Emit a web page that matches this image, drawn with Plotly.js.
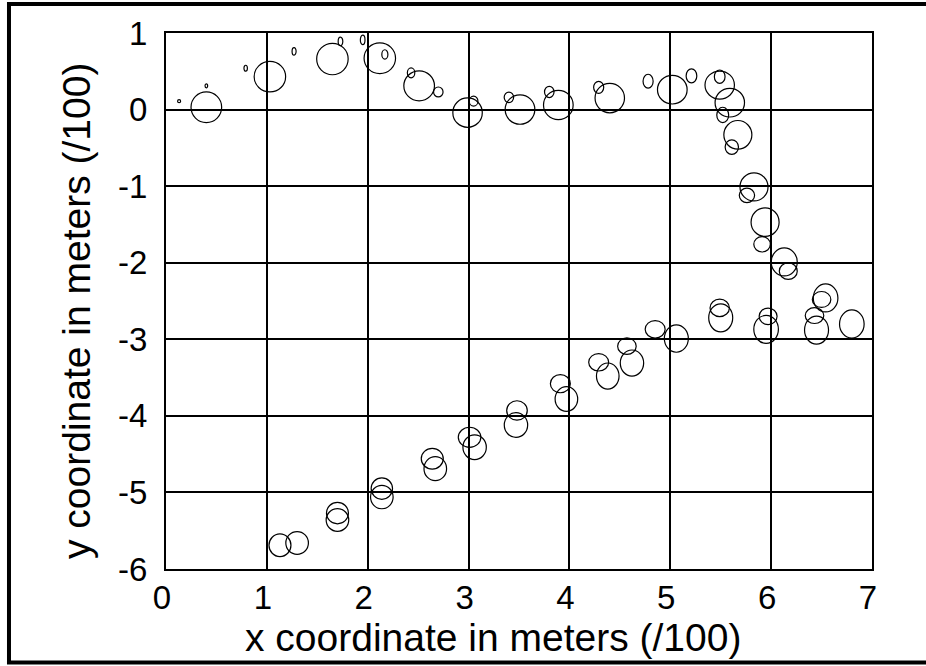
<!DOCTYPE html>
<html>
<head>
<meta charset="utf-8">
<script src="https://cdn.plot.ly/plotly-3.0.1.min.js"></script>
<style>
html,body{margin:0;padding:0;background:#fff;}
#chart{width:926px;height:666px;}
</style>
</head>
<body>
<div id="chart"></div>
<script>
// ellipse centres (x, y in meters /100) and semi-axes (in the same units)
const cx = [0.13,0.40,0.40,0.79,1.03,1.27,1.65,1.73,1.95,2.12,2.17,2.43,2.51,2.70,2.99,3.05,3.40,3.51,3.80,3.89,4.29,4.40,4.78,5.02,5.21,5.49,5.49,5.59,5.52,5.67,5.61,5.83,5.76,5.94,5.91,6.13,6.17,
            4.85,5.06,5.49,5.50,5.97,5.95,6.43,6.45,6.50,6.54,6.80,4.57,4.62,4.29,4.38,3.91,3.97,3.48,3.47,3.01,3.06,2.64,2.67,2.14,2.14,1.70,1.70,1.13,1.30];
const cy = [0.11,0.03,0.31,0.54,0.43,0.76,0.66,0.89,0.91,0.67,0.72,0.48,0.31,0.23,-0.04,0.11,0.16,0.00,0.23,0.06,0.29,0.15,0.37,0.26,0.44,0.32,0.43,0.09,-0.07,-0.33,-0.49,-1.01,-1.12,-1.47,-1.76,-1.99,-2.11,
            -2.87,-2.99,-2.59,-2.72,-2.70,-2.87,-2.69,-2.88,-2.48,-2.46,-2.80,-3.09,-3.31,-3.30,-3.48,-3.58,-3.78,-3.93,-4.12,-4.28,-4.41,-4.56,-4.69,-4.95,-5.06,-5.27,-5.36,-5.69,-5.66];
const rx = [0.015,0.152,0.013,0.017,0.156,0.020,0.156,0.023,0.023,0.156,0.030,0.037,0.152,0.047,0.146,0.043,0.047,0.147,0.047,0.147,0.050,0.146,0.050,0.147,0.053,0.146,0.053,0.146,0.059,0.139,0.066,0.139,0.076,0.139,0.082,0.129,0.089,
            0.099,0.119,0.096,0.119,0.089,0.122,0.092,0.119,0.092,0.122,0.122,0.092,0.116,0.099,0.112,0.099,0.112,0.102,0.116,0.112,0.116,0.109,0.112,0.106,0.112,0.109,0.112,0.109,0.112];
const ry = [0.020,0.200,0.026,0.039,0.200,0.048,0.205,0.056,0.061,0.200,0.061,0.065,0.196,0.065,0.192,0.065,0.069,0.192,0.074,0.192,0.078,0.192,0.091,0.187,0.091,0.183,0.087,0.187,0.100,0.187,0.095,0.183,0.095,0.187,0.100,0.183,0.108,
            0.114,0.179,0.114,0.183,0.108,0.183,0.104,0.183,0.104,0.183,0.183,0.108,0.170,0.114,0.170,0.118,0.161,0.127,0.161,0.131,0.161,0.135,0.157,0.140,0.153,0.140,0.148,0.148,0.148];

const xTicks = [0,1,2,3,4,5,6,7];
const yTicks = [1,0,-1,-2,-3,-4,-5,-6];
const xTitle = 'x coordinate in meters (/100)';
const yTitle = 'y coordinate in meters (/100)';

const FONT = 'Liberation Sans, Arial, Helvetica, sans-serif';

const shapes = cx.map((x, i) => ({
  type: 'circle', xref: 'x', yref: 'y',
  x0: x - rx[i], x1: x + rx[i], y0: cy[i] - ry[i], y1: cy[i] + ry[i],
  line: {color: '#000', width: 1.2}, fillcolor: 'rgba(0,0,0,0)', layer: 'above'
}));
// figure frame
shapes.push({
  type: 'rect', xref: 'paper', yref: 'paper',
  x0: -0.2224, x1: 1.09, y0: -0.1744, y1: 1.054,
  line: {color: '#000', width: 4}, layer: 'above'
});

const data = [{
  type: 'scatter', mode: 'markers', x: cx, y: cy,
  marker: {opacity: 0, size: 1}, hoverinfo: 'skip', showlegend: false
}];

const axisCommon = {
  showgrid: true, gridcolor: '#000', gridwidth: 2,
  showline: true, mirror: true, linecolor: '#000', linewidth: 2,
  zeroline: false, ticks: '', tickfont: {family: FONT, size: 33, color: '#000'},
  fixedrange: true
};

const layout = {
  width: 926, height: 666,
  margin: {l: 166, r: 54, t: 33, b: 97, pad: 0},
  paper_bgcolor: '#fff', plot_bgcolor: '#fff',
  font: {family: FONT, color: '#000'},
  showlegend: false,
  xaxis: Object.assign({}, axisCommon, {
    range: [0, 7], tickmode: 'array', tickvals: xTicks, ticktext: xTicks.map(String),
    ticklabelshift: -4, ticklabelstandoff: -2
  }),
  yaxis: Object.assign({}, axisCommon, {
    range: [-6, 1], tickmode: 'array', tickvals: yTicks, ticktext: yTicks.map(String),
    ticklabelstandoff: 10
  }),
  annotations: [
    {text: xTitle, xref: 'paper', yref: 'paper', x: (492.5 - 166) / 706, y: (569 - 637) / 536,
     xanchor: 'center', yanchor: 'middle', showarrow: false,
     font: {family: FONT, size: 39, color: '#000'}},
    {text: yTitle, xref: 'paper', yref: 'paper', x: (76 - 166) / 706, y: (569 - 311) / 536,
     xanchor: 'center', yanchor: 'middle', showarrow: false, textangle: -90,
     font: {family: FONT, size: 39, color: '#000'}}
  ],
  shapes: shapes
};

Plotly.newPlot('chart', data, layout, {staticPlot: true, displayModeBar: false});
</script>
</body>
</html>
